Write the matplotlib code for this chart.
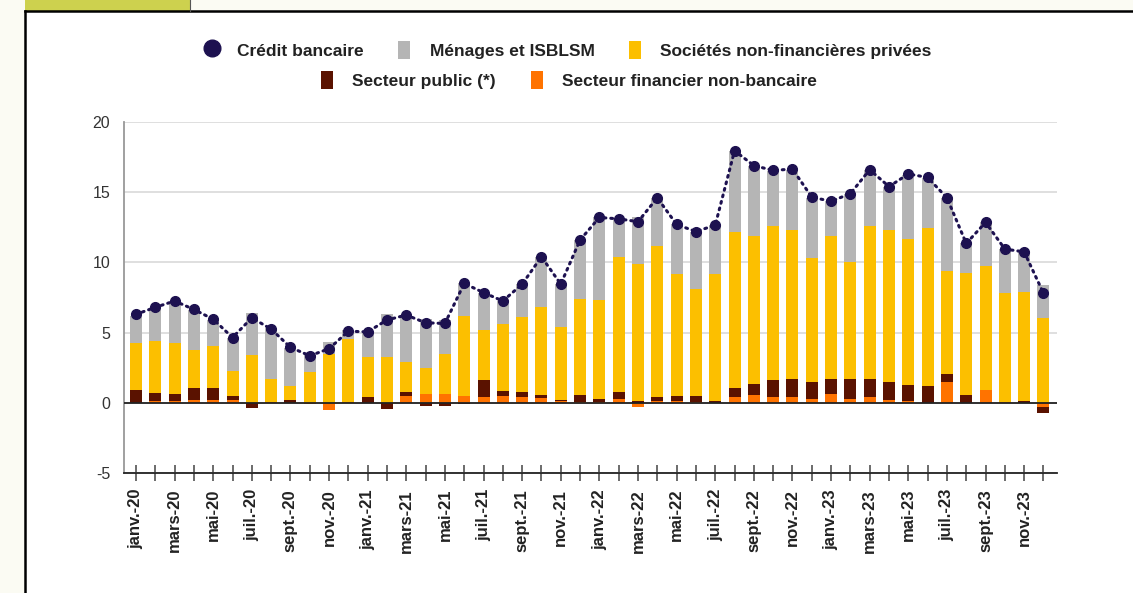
import numpy as np
import matplotlib
matplotlib.use("Agg")
import matplotlib.pyplot as plt
from matplotlib.patches import Patch, Rectangle
from matplotlib.lines import Line2D

plt.rcParams['font.family'] = ['Liberation Sans', 'DejaVu Sans']
plt.rcParams['axes.unicode_minus'] = False

# monthly data, janv.-20 .. déc.-23 (contributions in points)
months = ["janv.", "févr.", "mars", "avr.", "mai", "juin",
          "juil.", "août", "sept.", "oct.", "nov.", "déc."]
labels = [f"{m}-{y}" for y in ["20", "21", "22", "23"] for m in months]

fin_nonbank = [0.00, 0.10, 0.10, 0.20, 0.20, 0.20, 0.00, 0.05, 0.00, -0.05, -0.48, 0.05,
               0.00, 0.00, 0.48, 0.60, 0.60, 0.48, 0.40, 0.48, 0.40, 0.36, 0.10, 0.05,
               0.05, 0.24, -0.30, 0.10, 0.10, 0.05, 0.00, 0.40, 0.52, 0.40, 0.40, 0.24,
               0.64, 0.29, 0.40, 0.20, 0.10, 0.00, 1.48, 0.00, 0.93, 0.05, 0.00, -0.30]
public = [0.93, 0.61, 0.50, 0.87, 0.87, 0.30, -0.36, 0.00, 0.20, 0.00, 0.00, 0.00,
          0.40, -0.43, 0.28, -0.26, -0.26, -0.10, 1.24, 0.33, 0.36, 0.17, 0.10, 0.50,
          0.20, 0.52, 0.15, 0.30, 0.40, 0.40, 0.10, 0.64, 0.83, 1.19, 1.31, 1.24,
          1.07, 1.43, 1.31, 1.26, 1.19, 1.17, 0.55, 0.52, 0.00, 0.00, 0.10, -0.43]
snf = [3.36, 3.67, 3.69, 2.67, 2.98, 1.76, 3.38, 1.64, 0.97, 2.17, 3.50, 4.47,
       2.86, 3.26, 2.14, 1.90, 2.90, 5.69, 3.53, 4.79, 5.36, 6.30, 5.20, 6.83,
       7.06, 9.64, 9.73, 10.79, 8.67, 7.62, 9.07, 11.15, 10.53, 11.01, 10.60, 8.81,
       10.17, 8.33, 10.89, 10.85, 10.35, 11.26, 7.35, 8.69, 8.83, 7.74, 7.76, 6.07]
menages = [1.91, 2.37, 2.91, 2.86, 1.85, 2.34, 3.02, 3.61, 2.73, 1.23, 0.80, 0.63,
           1.79, 3.04, 3.30, 3.45, 2.40, 2.38, 2.68, 1.65, 2.33, 3.57, 3.05, 4.22,
           5.89, 2.70, 3.32, 3.41, 3.53, 4.13, 3.48, 5.71, 4.97, 3.90, 4.29, 4.31,
           2.47, 4.80, 3.95, 3.09, 4.61, 3.57, 5.22, 2.14, 3.09, 3.16, 2.94, 2.31]
credit = [6.30, 6.80, 7.25, 6.65, 5.95, 4.65, 6.05, 5.25, 3.95, 3.35, 3.85, 5.10,
          5.05, 5.90, 6.25, 5.70, 5.65, 8.50, 7.85, 7.25, 8.45, 10.40, 8.45, 11.60,
          13.20, 13.10, 12.90, 14.60, 12.70, 12.20, 12.65, 17.95, 16.90, 16.55, 16.65, 14.65,
          14.35, 14.90, 16.60, 15.40, 16.30, 16.05, 14.60, 11.35, 12.85, 10.95, 10.75, 7.80]

c_fin = "#ff7300"
c_pub = "#5a1200"
c_snf = "#fcbf00"
c_men = "#b5b5b5"
c_cred = "#1d1150"

fig = plt.figure(figsize=(11.33, 5.93), dpi=100)
fig.patch.set_facecolor("white")

# page frame bits (cream margins, header tab, black border)
fig.patches.append(Rectangle((0, 0), 25 / 1133, 1, transform=fig.transFigure,
                             facecolor="#fbfbf3", edgecolor="none", zorder=0))
fig.patches.append(Rectangle((0, 1 - 11 / 593), 1, 11 / 593, transform=fig.transFigure,
                             facecolor="#fbfbf3", edgecolor="none", zorder=0))
fig.patches.append(Rectangle((25 / 1133, 1 - 11 / 593), 165 / 1133, 11 / 593,
                             transform=fig.transFigure, facecolor="#cdd14e",
                             edgecolor="none", zorder=0))
fig.lines.append(Line2D([25 / 1133, 25 / 1133], [0, 1 - 11 / 593], transform=fig.transFigure,
                        color="black", lw=1.8))
fig.lines.append(Line2D([25 / 1133, 1], [1 - 11 / 593, 1 - 11 / 593], transform=fig.transFigure,
                        color="black", lw=1.8))
fig.lines.append(Line2D([190 / 1133, 190 / 1133], [1 - 11 / 593, 1], transform=fig.transFigure,
                        color="#555555", lw=0.8))

ax = fig.add_axes([124 / 1133, 120 / 593, 933 / 1133, 351 / 593])

x = np.arange(len(labels))
pos_bottom = np.zeros(len(x))
neg_bottom = np.zeros(len(x))
for vals, col in [(fin_nonbank, c_fin), (public, c_pub), (snf, c_snf), (menages, c_men)]:
    v = np.array(vals)
    bottom = np.where(v >= 0, pos_bottom, neg_bottom)
    ax.bar(x, v, width=0.62, bottom=bottom, color=col, zorder=3)
    pos_bottom = pos_bottom + np.where(v >= 0, v, 0)
    neg_bottom = neg_bottom + np.where(v < 0, v, 0)

ax.plot(x, credit, color=c_cred, lw=2.2, linestyle=(0, (0.6, 1.6)),
        dash_capstyle="round", zorder=4)
ax.plot(x, credit, "o", color=c_cred, markersize=7, zorder=5)

ax.axhline(0, color="#222222", lw=1.3, zorder=3.5)
ax.set_ylim(-5, 20)
ax.set_xlim(-0.62, 47.7)
ax.set_yticks([-5, 0, 5, 10, 15, 20])
ax.yaxis.grid(True, color="#d9d9d9", lw=1.2, zorder=0)
ax.set_axisbelow(True)
ax.tick_params(axis="y", length=0, pad=10, labelsize=11.5, labelcolor="#333333")

ax.set_xticks(x)
ax.set_xticklabels([lab if i % 2 == 0 else "" for i, lab in enumerate(labels)],
                   rotation=90, fontsize=12, fontweight="bold", color="#222222")
ax.tick_params(axis="x", direction="inout", length=11, width=1.1, color="#444444", pad=6)

for s in ["top", "right"]:
    ax.spines[s].set_visible(False)
ax.spines["left"].set_color("#999999")
ax.spines["left"].set_linewidth(1.3)
ax.spines["bottom"].set_color("#222222")
ax.spines["bottom"].set_linewidth(1.3)

# legend, two centred rows
h1 = [Line2D([], [], marker="o", linestyle="none", color=c_cred, markersize=12),
      Patch(facecolor=c_men), Patch(facecolor=c_snf)]
l1 = ["Crédit bancaire", "Ménages et ISBLSM", "Sociétés non-financières privées"]
h2 = [Patch(facecolor=c_pub), Patch(facecolor=c_fin)]
l2 = ["Secteur public (*)", "Secteur financier non-bancaire"]
kw = dict(frameon=False, handlelength=0.7, handleheight=1.3, handletextpad=1.1,
          columnspacing=2.0, prop={"size": 12.5, "weight": "bold"}, labelcolor="#222222")
leg1 = fig.legend(h1, l1, loc="center", bbox_to_anchor=(0.502, 1 - 50 / 593), ncol=3, **kw)
leg2 = fig.legend(h2, l2, loc="center", bbox_to_anchor=(0.502, 1 - 80 / 593), ncol=2, **kw)

fig.savefig("out.png", dpi=100)
